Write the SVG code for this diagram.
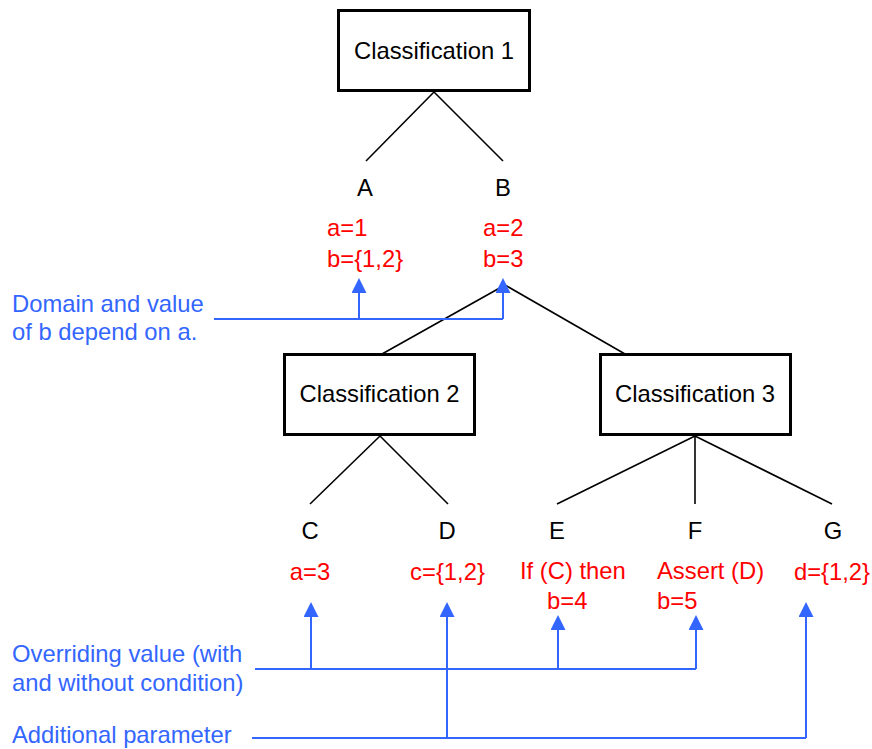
<svg xmlns="http://www.w3.org/2000/svg" width="872" height="749" viewBox="0 0 872 749">
<style>
text { font-family: "Liberation Sans", Arial, sans-serif; font-size: 23.8px; }
.box { fill: #ffffff; stroke: #000000; stroke-width: 3; }
.lbl { fill: #000000; }
.mid { text-anchor: middle; }
.red { fill: #ff0000; }
.blue { fill: #3366ff; }
.edge { stroke: #000000; stroke-width: 1.6; fill: none; }
.ref { stroke: #3366ff; stroke-width: 2; fill: none; }
</style>
<defs>
<marker id="ah" viewBox="0 0 15 15" refX="0" refY="7.5" markerWidth="15" markerHeight="15" markerUnits="userSpaceOnUse" orient="auto">
<path d="M0,0 L15,7.5 L0,15 z" fill="#3366ff"/>
</marker>
</defs>
<rect width="872" height="749" fill="#ffffff"/>
<g id="connectors">
<line class="edge" x1="434" y1="92" x2="366" y2="161"/>
<line class="edge" x1="434" y1="92" x2="503" y2="161"/>
<line class="edge" x1="505" y1="285" x2="382" y2="354"/>
<line class="edge" x1="505" y1="285" x2="625" y2="354"/>
<line class="edge" x1="380" y1="436" x2="310" y2="504"/>
<line class="edge" x1="380" y1="436" x2="448" y2="504"/>
<line class="edge" x1="695" y1="436" x2="557" y2="504"/>
<line class="edge" x1="695" y1="436" x2="695" y2="504"/>
<line class="edge" x1="695" y1="436" x2="832" y2="504"/>
<path class="ref" d="M214,319 H503"/>
<path class="ref" d="M359,319 V293" marker-end="url(#ah)"/>
<path class="ref" d="M503,319 V293" marker-end="url(#ah)"/>
<path class="ref" d="M255,669 H696"/>
<path class="ref" d="M311,669 V617" marker-end="url(#ah)"/>
<path class="ref" d="M558,669 V630" marker-end="url(#ah)"/>
<path class="ref" d="M696,669 V630" marker-end="url(#ah)"/>
<path class="ref" d="M252,738 H806"/>
<path class="ref" d="M447,738 V617" marker-end="url(#ah)"/>
<path class="ref" d="M806,738 V617" marker-end="url(#ah)"/>
</g>
<g id="classification1">
<rect class="box" x="338.5" y="10.5" width="191" height="80"/>
<text class="lbl mid" x="434" y="59">Classification 1</text>
</g>
<g id="classification2">
<rect class="box" x="284.5" y="354.5" width="190" height="80"/>
<text class="lbl mid" x="379.5" y="402">Classification 2</text>
</g>
<g id="classification3">
<rect class="box" x="600.5" y="354.5" width="190" height="80"/>
<text class="lbl mid" x="695" y="402">Classification 3</text>
</g>
<g id="nodeA">
<text class="lbl mid" x="365" y="196">A</text>
<text class="red" x="327" y="236">a=1</text>
<text class="red" x="327" y="267">b={1,2}</text>
</g>
<g id="nodeB">
<text class="lbl mid" x="503" y="196">B</text>
<text class="red" x="483" y="236">a=2</text>
<text class="red" x="483" y="267">b=3</text>
</g>
<g id="nodeC">
<text class="lbl mid" x="310" y="539">C</text>
<text class="red mid" x="310" y="580">a=3</text>
</g>
<g id="nodeD">
<text class="lbl mid" x="447" y="539">D</text>
<text class="red mid" x="447.5" y="580">c={1,2}</text>
</g>
<g id="nodeE">
<text class="lbl mid" x="557" y="539">E</text>
<text class="red" x="520" y="579">If (C) then</text>
<text class="red" x="547" y="609">b=4</text>
</g>
<g id="nodeF">
<text class="lbl mid" x="695" y="539">F</text>
<text class="red" x="657" y="579">Assert (D)</text>
<text class="red" x="657" y="609">b=5</text>
</g>
<g id="nodeG">
<text class="lbl mid" x="833" y="539">G</text>
<text class="red mid" x="832" y="580">d={1,2}</text>
</g>
<g id="note-domain">
<text class="blue" x="12" y="312">Domain and value</text>
<text class="blue" x="12" y="340">of b depend on a.</text>
</g>
<g id="note-overriding">
<text class="blue" x="12" y="662">Overriding value (with</text>
<text class="blue" x="12" y="691">and without condition)</text>
</g>
<g id="note-additional">
<text class="blue" x="12" y="743">Additional parameter</text>
</g>
</svg>
